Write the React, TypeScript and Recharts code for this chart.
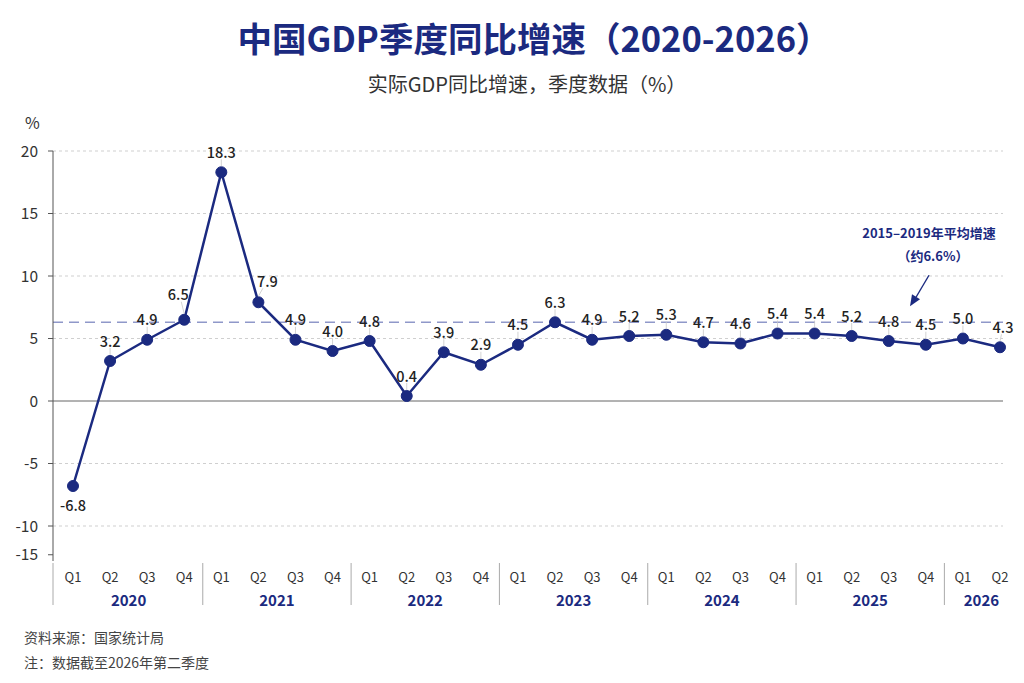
import { CartesianGrid, Line, LineChart, ReferenceLine, XAxis, YAxis } from "recharts";

// 季度标签与同比增速（%）
const years = ["2020", "2021", "2022", "2023", "2024", "2025", "2026"];
const quarters = ["Q1", "Q2", "Q3", "Q4"];
const quarterCounts = [4, 4, 4, 4, 4, 4, 2];
const growth = [
  -6.8, 3.2, 4.9, 6.5,
  18.3, 7.9, 4.9, 4.0,
  4.8, 0.4, 3.9, 2.9,
  4.5, 6.3, 4.9, 5.2,
  5.3, 4.7, 4.6, 5.4,
  5.4, 5.2, 4.8, 4.5,
  5.0, 4.3,
];
const yTicks = [-12.3, -10, -5, 0, 5, 10, 15, 20];
const yTickLabels = ["-15", "-10", "-5", "0", "5", "10", "15", "20"];
const gridValues = [-10, -5, 5, 10, 15, 20];
const avgLine = 6.3;

const chartData = years.flatMap((year, yi) =>
  quarters.slice(0, quarterCounts[yi]).map((q, qi) => ({ key: `${year}${q}`, year, quarter: q, qi, groupSize: quarterCounts[yi] }))
).map((d, i) => ({ ...d, value: growth[i] }));

const NAVY = "#1b2a80";
const FONT = '"Noto Sans CJK SC", "Noto Sans", sans-serif';
const PAD_L = 20;
const PAD_R = 3;
const PLOT_W = 950;
const STEP = (PLOT_W - PAD_L - PAD_R) / (chartData.length - 1);

// label offsets for a few points that sit beside their marker
const labelOffsets: Record<number, [number, number]> = {
  0: [0, 18],
  3: [-6, -26],
  5: [9, -22],
  25: [3, -21],
};

function PointLabel(props: any) {
  const { x, y, value, index } = props;
  const [dx, dy] = labelOffsets[index] ?? [0, -21];
  const lx = x + dx;
  const ly = y + dy;
  const below = dy > 0;
  return (
    <g>
      <line
        x1={x + (dx !== 0 && !below ? dx * 0.5 : 0)}
        y1={below ? y + 6 : ly + 8}
        x2={x}
        y2={below ? y + 6 : y - 6}
        stroke="#c8c8c8"
        strokeWidth={0.8}
      />
      <text x={lx} y={ly} textAnchor="middle" dominantBaseline="central" fontSize={14.5} fontWeight={500} fill="#222">
        {value.toFixed(1)}
      </text>
    </g>
  );
}

function QuarterTick(props: any) {
  const { x, y, index } = props;
  const d = chartData[index];
  if (!d) return null;
  const sepX = index === 0 ? x - PAD_L : x - STEP / 2;
  return (
    <g>
      <text x={x} y={y + 13} textAnchor="middle" fontSize={13} fill="#333">
        {d.quarter}
      </text>
      {d.qi === 0 && (
        <>
          <line x1={sepX} x2={sepX} y1={y - 6} y2={y + 36} stroke="#aaa" strokeWidth={1} />
          <text x={x + (STEP * (d.groupSize - 1)) / 2} y={y + 37} textAnchor="middle" fontSize={15} fontWeight={700} fill={NAVY}>
            {d.year}
          </text>
        </>
      )}
    </g>
  );
}

function AvgAnnotation(props: any) {
  const { viewBox } = props;
  if (!viewBox) return null;
  const ax = viewBox.x + viewBox.width - 91;
  const ay = viewBox.y;
  return (
    <g>
      <text x={ax + 17} y={ay - 84} textAnchor="middle" fontSize={13} fontWeight={700} fill={NAVY}>
        2015–2019年平均增速
      </text>
      <text x={ax + 21} y={ay - 61} textAnchor="middle" fontSize={13} fontWeight={700} fill={NAVY}>
        （约6.6%）
      </text>
      <line x1={ax + 17} y1={ay - 47} x2={ax + 4} y2={ay - 25} stroke={NAVY} strokeWidth={1.4} />
      <path d={`M ${ax - 2} ${ay - 16} L ${ax} ${ay - 28} L ${ax + 8} ${ay - 23} Z`} fill={NAVY} />
    </g>
  );
}

export default function App() {
  return (
    <div style={{ position: "absolute", left: 0, top: 0, width: 1024, height: 683, background: "#fff", fontFamily: FONT }}>
      <div style={{ position: "absolute", top: 12, left: 22, width: 1024, textAlign: "center", fontSize: 34.5, fontWeight: 700, color: NAVY, lineHeight: "50px" }}>
        中国GDP季度同比增速（2020-2026）
      </div>
      <div style={{ position: "absolute", top: 70, left: 15, width: 1024, textAlign: "center", fontSize: 20, color: "#333", lineHeight: "28px" }}>
        实际GDP同比增速，季度数据（%）
      </div>
      <div style={{ position: "absolute", top: 110, left: 25, fontSize: 16, color: "#333", lineHeight: "24px" }}>%</div>
      <LineChart
        width={1024}
        height={683}
        data={chartData}
        margin={{ top: 151, right: 21, left: 0, bottom: 72 }}
        style={{ fontFamily: FONT }}
      >
        <CartesianGrid horizontal={false} vertical={false} />
        {gridValues.map((v) => (
          <ReferenceLine key={v} y={v} stroke="#cfcfcf" strokeDasharray="3 3" />
        ))}
        <ReferenceLine y={0} stroke="#666" strokeWidth={1} />
        <ReferenceLine y={avgLine} stroke="#8f98c9" strokeDasharray="10 6" strokeWidth={1.4} label={<AvgAnnotation />} />
        <XAxis
          dataKey="key"
          interval={0}
          axisLine={false}
          tickLine={false}
          padding={{ left: PAD_L, right: PAD_R }}
          height={50}
          tick={<QuarterTick />}
        />
        <YAxis
          domain={[-12.8, 20]}
          ticks={yTicks}
          width={53}
          axisLine={{ stroke: "#555" }}
          tickLine={{ stroke: "#555" }}
          tickSize={5}
          tickMargin={10}
          tick={{ fontSize: 15.5, fill: "#333" }}
          tickFormatter={(v: number) => yTickLabels[yTicks.indexOf(v)]}
          allowDataOverflow
        />
        <Line
          type="linear"
          dataKey="value"
          stroke={NAVY}
          strokeWidth={2.5}
          dot={{ r: 5.5, fill: NAVY, stroke: NAVY, strokeWidth: 1 }}
          label={<PointLabel />}
          isAnimationActive={false}
        />
      </LineChart>
      <div style={{ position: "absolute", top: 625, left: 24, fontSize: 14, color: "#444", lineHeight: "24px" }}>
        资料来源：国家统计局
      </div>
      <div style={{ position: "absolute", top: 650, left: 24, fontSize: 14, color: "#444", lineHeight: "24px" }}>
        注：数据截至2026年第二季度
      </div>
    </div>
  );
}
